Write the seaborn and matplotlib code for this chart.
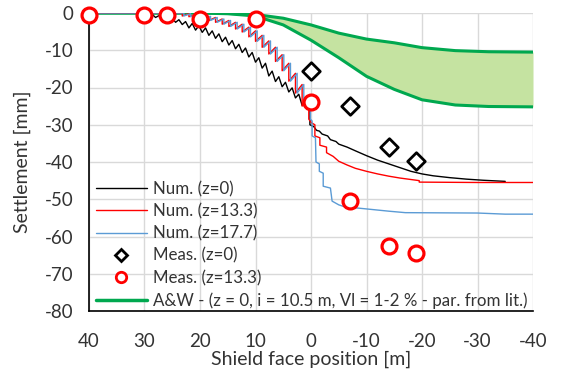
import numpy as np
import pandas as pd
import matplotlib
matplotlib.use("Agg")
import matplotlib.pyplot as plt
import seaborn as sns
from matplotlib.lines import Line2D

# ---------------- data ----------------
NUM_Z0_X = [40, 31, 30.4, 29.8, 29.2, 28.6, 28.0, 27.4, 26.8, 26.2, 25.6, 25.0, 24.4, 23.8,
            23.2, 22.6, 22.0, 21.4, 20.8, 20.2, 19.6, 19.0, 18.4, 17.8, 17.2, 16.6, 16.0,
            15.4, 14.8, 14.2, 13.6, 13.0, 12.4, 11.8, 11.2, 10.6, 10.0, 9.4, 8.8, 8.2, 7.6,
            7.0, 6.4, 5.8, 5.2, 4.6, 4.0, 3.4, 2.8, 2.2, 1.6, 1.0,
            0.2, 0.2, -0.5, -1.0, -1.5, -2.0, -3.0, -3.5, -4.5, -5.0, -6.5, -8.0, -10.0,
            -12.0, -14.0, -16.0, -18.0, -20.0, -22.0, -25.0, -28.0, -31.0, -35.0]
NUM_Z0_Y = [0, 0, -0.6, -0.2, -0.9, -0.4, -1.2, -0.7, -1.6, -1.0, -2.0, -1.4, -2.5, -1.8,
            -3.1, -2.3, -4.0, -2.8, -4.6, -3.4, -5.2, -4.0, -6.0, -4.8, -6.8, -5.6, -7.7,
            -6.5, -8.6, -7.4, -9.6, -8.4, -10.6, -9.4, -11.8, -10.6, -13.2, -12.0, -14.8,
            -13.5, -16.9, -15.6, -18.4, -17.1, -19.8, -18.6, -21.2, -20.1, -22.8, -21.8,
            -24.8, -23.8,
            -25.5, -30.0, -30.5, -31.5, -31.7, -32.5, -33.0, -34.0, -34.5, -35.2, -36.0,
            -37.0, -38.3, -39.5, -40.5, -41.5, -42.5, -43.2, -43.7, -44.2, -44.6, -44.9, -45.2]

NUM_Z13_X = [40, 23.2, 23.2, 22.0, 22.0, 20.8, 20.8, 19.6, 19.6, 18.4, 18.4, 17.2, 17.2,
             16.0, 16.0, 14.8, 14.8, 13.6, 13.6, 12.4, 12.4, 11.2, 11.2, 10.0, 10.0,
             8.8, 8.8, 7.6, 7.6, 6.4, 6.4, 5.2, 5.2, 4.0, 4.0, 2.8, 2.8, 1.6, 1.6, 0.4, 0.4,
             -0.1, -0.7, -0.7, -1.6, -1.6, -2.8, -2.8, -4.0, -5.0, -6.5, -8.0, -10.0, -12.0,
             -14.0, -16.0, -18.0, -19.5, -19.5, -30.0, -40.0]
NUM_Z13_Y = [0, 0, -0.8, -0.2, -1.0, -0.4, -1.3, -0.6, -1.6, -0.9, -2.0, -1.2, -2.5,
             -1.6, -3.0, -2.0, -3.6, -2.5, -4.3, -3.0, -5.1, -3.8, -6.4, -4.8, -7.6,
             -6.0, -9.2, -7.5, -11.0, -9.2, -13.0, -11.2, -15.5, -13.5, -18.3, -16.2, -21.5,
             -19.2, -25.0, -22.5, -28.5,
             -29.5, -30.0, -33.0, -33.5, -35.5, -36.0, -37.5, -38.5, -39.8, -40.8, -41.7,
             -42.5, -43.2, -43.8, -44.3, -44.7, -45.0, -45.4, -45.5, -45.5]

NUM_Z17_X = [40, 22.9, 22.9, 21.7, 21.7, 20.5, 20.5, 19.3, 19.3, 18.1, 18.1, 16.9, 16.9,
             15.7, 15.7, 14.5, 14.5, 13.3, 13.3, 12.1, 12.1, 10.9, 10.9, 9.7, 9.7,
             8.5, 8.5, 7.3, 7.3, 6.1, 6.1, 4.9, 4.9, 3.7, 3.7, 2.5, 2.5, 1.3, 1.3, 0.1, 0.1,
             -0.2, -0.2, -0.8, -0.9, -1.5, -1.5, -2.2, -2.2, -3.5, -3.8, -5.0, -6.0, -8.0,
             -10.0, -14.0, -17.0, -30.0, -35.0, -40.0]
NUM_Z17_Y = [0, 0, -0.8, -0.2, -1.0, -0.4, -1.3, -0.6, -1.6, -0.9, -2.0, -1.2, -2.5,
             -1.6, -3.0, -2.0, -3.6, -2.5, -4.3, -3.0, -5.1, -3.8, -6.4, -4.8, -7.6,
             -6.0, -9.2, -7.5, -11.0, -9.2, -13.0, -11.2, -15.5, -13.5, -18.3, -16.2, -21.5,
             -19.2, -25.0, -22.5, -28.5,
             -29.0, -33.0, -33.5, -40.0, -40.5, -42.5, -43.0, -46.5, -47.0, -50.5, -51.5,
             -52.0, -52.3, -52.6, -53.2, -53.6, -53.7, -54.0, -54.0]

MEAS_Z0_X = [0, -7, -14, -19]
MEAS_Z0_Y = [-15.7, -25.0, -36.0, -39.6]

MEAS_Z13_X = [40, 30, 26, 20, 10, 0, -7, -14, -19]
MEAS_Z13_Y = [-0.5, -0.5, -0.5, -1.5, -1.5, -24.0, -50.5, -62.5, -64.5]

AW_X = [40, 20, 15, 10, 5, 0, -5, -10, -15, -20, -26, -32, -40]
AW_VL1_Y = [0, 0, -0.1, -0.4, -1.4, -3.2, -5.4, -7.0, -8.0, -9.3, -10.1, -10.4, -10.5]
AW_VL2_Y = [0, 0, -0.2, -0.8, -3.2, -7.3, -12.0, -17.0, -20.5, -23.3, -24.7, -25.1, -25.2]

X_TICKS = [40, 30, 20, 10, 0, -10, -20, -30, -40]
Y_TICKS = [0, -10, -20, -30, -40, -50, -60, -70, -80]

LABELS = ["Num. (z=0)", "Num. (z=13.3)", "Num. (z=17.7)", "Meas. (z=0)",
          "Meas. (z=13.3)", "A&W - (z = 0, i = 10.5 m, Vl = 1-2 % - par. from lit.)"]

# ---------------- style ----------------
sns.set_theme(style="white")
FONT = ["Lato", "DejaVu Sans"]
plt.rcParams["font.family"] = FONT
TXT = "#333333"
GREEN = "#00a84f"
FILL = "#c5e3a1"
RED = "#ff0000"
BLUE = "#5b9bd5"

fig = plt.figure(figsize=(5.68, 3.75), dpi=100)
ax = fig.add_axes([89 / 568, 1 - 311 / 375, (533 - 89) / 568, (311 - 13) / 375])

ax.set_axisbelow(True)
ax.grid(True, color="#d9d9d9", linewidth=1.0)

# A&W band
ax.fill_between(AW_X, AW_VL1_Y, AW_VL2_Y, color=FILL, linewidth=0, zorder=1)
aw = pd.DataFrame({"x": AW_X, "y1": AW_VL1_Y, "y2": AW_VL2_Y})
sns.lineplot(data=aw, x="x", y="y1", ax=ax, color=GREEN, linewidth=2.2, sort=False,
             estimator=None, zorder=2)
sns.lineplot(data=aw, x="x", y="y2", ax=ax, color=GREEN, linewidth=2.2, sort=False,
             estimator=None, zorder=2)

# numerical curves
for xs, ys, col in [(NUM_Z0_X, NUM_Z0_Y, "black"),
                    (NUM_Z13_X, NUM_Z13_Y, RED),
                    (NUM_Z17_X, NUM_Z17_Y, BLUE)]:
    d = pd.DataFrame({"x": xs, "y": ys})
    sns.lineplot(data=d, x="x", y="y", ax=ax, color=col, linewidth=1.0, sort=False,
                 estimator=None, zorder=3)

# measurements
m0 = pd.DataFrame({"x": MEAS_Z0_X, "y": MEAS_Z0_Y})
m13 = pd.DataFrame({"x": MEAS_Z13_X, "y": MEAS_Z13_Y})
sns.scatterplot(data=m0, x="x", y="y", ax=ax, marker="D", s=80, facecolor="white",
                edgecolor="black", linewidth=2.0, zorder=5, clip_on=False)
sns.scatterplot(data=m13, x="x", y="y", ax=ax, marker="o", s=115, facecolor="white",
                edgecolor=RED, linewidth=2.3, zorder=5, clip_on=False)

ax.set_xlim(40, -40)
ax.set_ylim(-80, 0)
ax.set_xticks(X_TICKS)
ax.set_yticks(Y_TICKS)
ax.set_xticklabels([str(v) for v in X_TICKS])
ax.set_yticklabels([str(v) for v in Y_TICKS])

for side in ["top", "right"]:
    ax.spines[side].set_visible(False)
for side in ["left", "bottom"]:
    ax.spines[side].set_color("black")
    ax.spines[side].set_linewidth(1.2)

ax.tick_params(axis="both", direction="in", length=5, width=1, color="black",
               labelsize=13.5, labelcolor=TXT)
ax.tick_params(axis="y", pad=11)
ax.tick_params(axis="x", pad=15.5)

ax.set_xlabel("Shield face position [m]", fontsize=14, color=TXT, labelpad=0.5)
ax.set_ylabel("Settlement [mm]", fontsize=14, color=TXT, labelpad=10)

handles = [
    Line2D([], [], color="black", linewidth=1.0),
    Line2D([], [], color=RED, linewidth=1.0),
    Line2D([], [], color=BLUE, linewidth=1.0),
    Line2D([], [], linestyle="none", marker="D", markersize=6, markerfacecolor="white",
           markeredgecolor="black", markeredgewidth=2.0),
    Line2D([], [], linestyle="none", marker="o", markersize=7.5, markerfacecolor="white",
           markeredgecolor=RED, markeredgewidth=2.0),
    Line2D([], [], color=GREEN, linewidth=2.5),
]
leg = ax.legend(handles, LABELS, loc="upper left", frameon=False,
                bbox_to_anchor=(96 / 568, 1 - 181 / 375), bbox_transform=fig.transFigure,
                fontsize=12.2, handlelength=3.0, handletextpad=0.36, labelspacing=0.36,
                borderpad=0, borderaxespad=0)
for t in leg.get_texts():
    t.set_color(TXT)

fig.savefig("out.png", dpi=100)
